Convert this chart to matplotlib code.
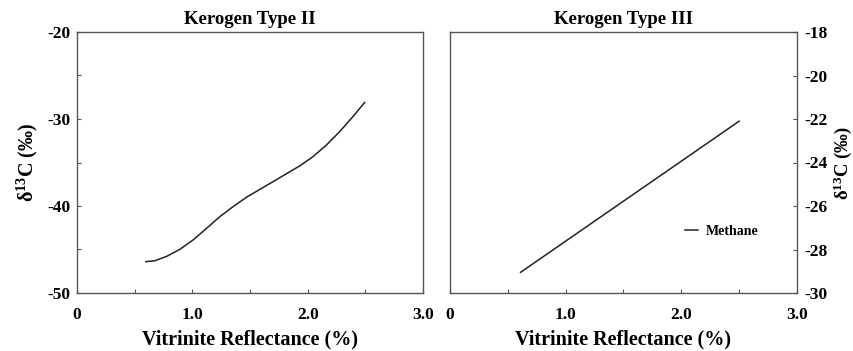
import numpy as np
import matplotlib.pyplot as plt
from matplotlib.ticker import MultipleLocator

plt.rcParams['font.family'] = ['Liberation Serif', 'DejaVu Serif']
plt.rcParams['font.weight'] = 'bold'
plt.rcParams['mathtext.default'] = 'regular'
plt.rcParams['axes.unicode_minus'] = False

# --- data ---
ro_type2 = [0.597, 0.675, 0.776, 0.892, 1.007, 1.123, 1.238, 1.353, 1.469,
            1.584, 1.700, 1.815, 1.930, 2.046, 2.162, 2.277, 2.392, 2.494]
d13c_type2 = [-46.4, -46.29, -45.8, -44.98, -43.9, -42.57, -41.23, -40.08, -39.0,
              -38.1, -37.2, -36.3, -35.4, -34.33, -33.0, -31.46, -29.73, -28.1]

ro_type3 = [0.61, 2.50]
d13c_type3 = [-29.05, -22.1]

xticks = [0, 1.0, 2.0, 3.0]
xticklabels = ['0', '1.0', '2.0', '3.0']
yticks_left = [-50, -40, -30, -20]
yticks_right = [-30, -28, -26, -24, -22, -20, -18]

fig = plt.figure(figsize=(8.54, 3.51), dpi=100)
W, H = 854, 351
ax1 = fig.add_axes([77 / W, 1 - 293 / H, 346 / W, 261 / H])
ax2 = fig.add_axes([450 / W, 1 - 293 / H, 347 / W, 261 / H])

line_col = '#222222'
spine_col = '#555555'
ylab = r'$\delta^{13}$C (‰)'

for ax in (ax1, ax2):
    ax.set_xlim(0, 3.0)
    ax.set_xticks(xticks)
    ax.set_xticklabels(xticklabels)
    ax.xaxis.set_minor_locator(MultipleLocator(0.5))
    ax.tick_params(which='both', direction='in', length=3, width=0.8,
                   color=spine_col, labelsize=12.5)
    ax.tick_params(axis='x', pad=10)
    ax.tick_params(axis='y', pad=5)
    for s in ax.spines.values():
        s.set_color(spine_col)
        s.set_linewidth(1.0)
    ax.set_xlabel('Vitrinite Reflectance (%)', fontsize=14.5, fontweight='bold', labelpad=5)

# left panel
ax1.plot(ro_type2, d13c_type2, color=line_col, lw=1.1)
ax1.set_ylim(-50, -20)
ax1.set_yticks(yticks_left)
ax1.yaxis.set_minor_locator(MultipleLocator(5))
ax1.set_title('Kerogen Type II', fontsize=13.5, fontweight='bold', pad=6)
ax1.set_ylabel(ylab, fontsize=14.5, fontweight='bold', labelpad=5)

# right panel
ax2.plot(ro_type3, d13c_type3, color=line_col, lw=1.1, label='Methane')
ax2.set_ylim(-30, -18)
ax2.set_yticks(yticks_right)
ax2.yaxis.tick_right()
ax2.yaxis.set_label_position('right')
ax2.set_title('Kerogen Type III', fontsize=13.5, fontweight='bold', pad=6)
ax2.set_ylabel(ylab, fontsize=13.5, fontweight='bold', labelpad=3)
ax2.legend(loc='center left', bbox_to_anchor=(0.64, 0.235), frameon=False,
           fontsize=10, handlelength=1.0, handletextpad=0.5)

fig.savefig('out.png', dpi=100)
